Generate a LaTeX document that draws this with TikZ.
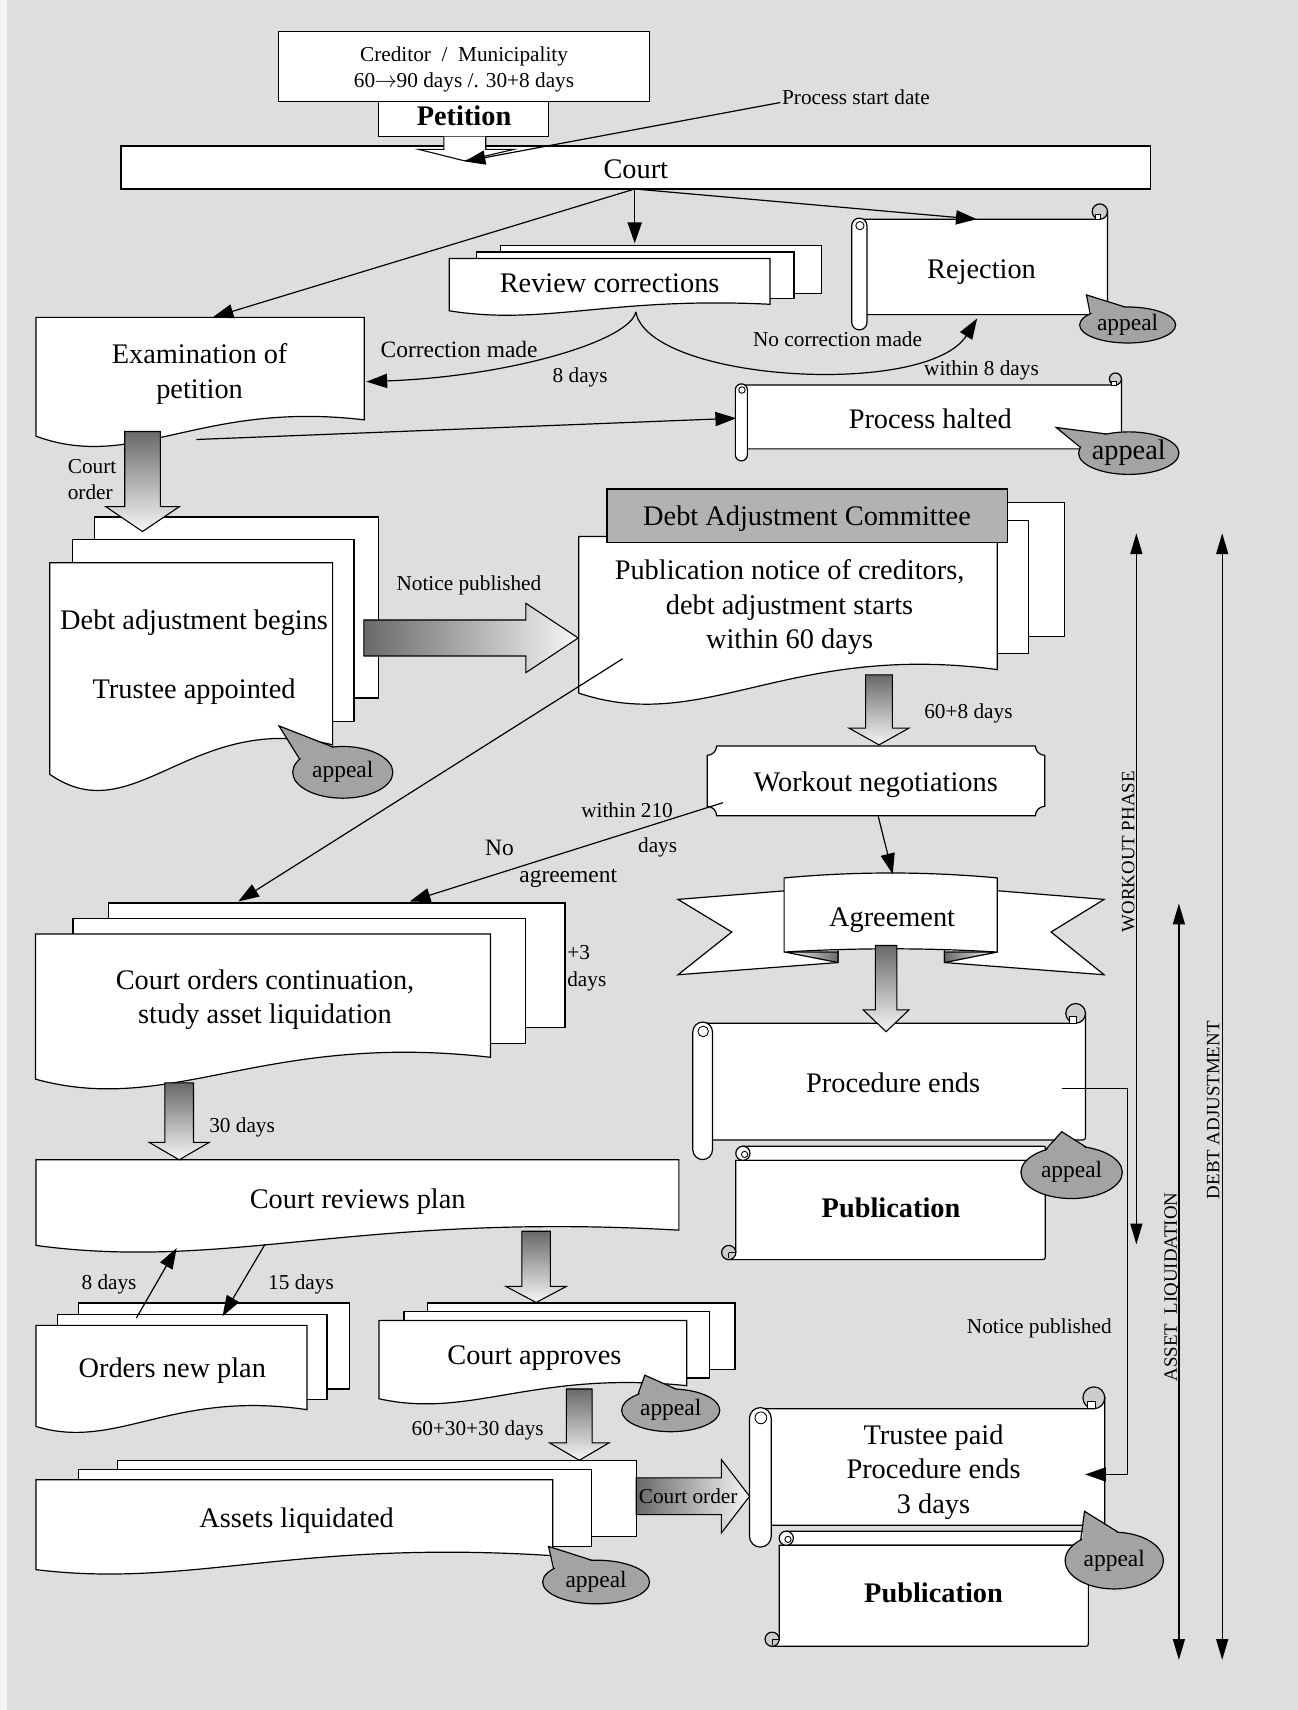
\documentclass[tikz,border=0pt]{standalone}
\usepackage{fontspec}
\setmainfont{Liberation Serif}
\usetikzlibrary{arrows.meta}
\definecolor{bgc}{RGB}{222,222,222}
\definecolor{appealgray}{RGB}{163,163,163}
\definecolor{hdrgray}{RGB}{178,178,178}
\definecolor{curlgray}{RGB}{205,205,205}
\definecolor{shdark}{RGB}{105,105,105}
\definecolor{shlight}{RGB}{246,246,246}
\tikzset{
 shp/.style={draw=black, fill=white, line width=1.1pt, line join=miter},
 conn/.style={draw=black, line width=1.1pt, -{Triangle[length=19pt,width=13pt]}},
 rng/.style={draw=black, line width=1.1pt, {Triangle[length=19pt,width=11pt]}-{Triangle[length=19pt,width=11pt]}},
 blk/.style={draw=black, line width=1pt},
 big/.style={font=\fontsize{26}{30}\selectfont, inner sep=0pt, text height=17pt, text depth=0pt},
 bigb/.style={font=\bfseries\fontsize{26}{30}\selectfont, inner sep=0pt, text height=17pt, text depth=0pt},
 med/.style={font=\fontsize{21.5}{25}\selectfont, inner sep=0pt, text height=14.2pt, text depth=0pt},
 sml/.style={font=\fontsize{19.5}{23}\selectfont, inner sep=0pt, text height=12.9pt, text depth=0pt},
 rotl/.style={font=\fontsize{17.3}{20}\selectfont, inner sep=0pt, text height=11.4pt, text depth=0pt, rotate=90},
}
% document shape: x0 y0 x1 yLeftBottom rise dip
\newcommand{\DocShape}[6]{%
 \filldraw[shp] (#1,#2) -- (#3,#2) -- (#3,{#4-#5}) .. controls ({#1+0.5*(#3-#1)},{#4-2.2*#5}) and ({#1+0.3*(#3-#1)},{#4+#6}) .. (#1,#4) -- cycle;}
% horizontal scroll: xL yT xR yB s
\newcommand{\HScroll}[5]{%
 \filldraw[shp] ({#1-0.5*#5},#2) -- ({#3-0.5*#5},#2) -- (#3,{#2-0.5*#5}) -- (#3,{#4-5}) .. controls (#3,#4) .. ({#3-5},#4) -- ({#1-0.5*#5},#4) -- cycle;
 \filldraw[shp, fill=curlgray] ({#3-0.5*#5},{#2-0.5*#5}) circle[radius={0.5*#5}];
 \filldraw[shp, line width=0.8pt] ({#3-0.8*#5},#2) rectangle ({#3-0.45*#5},{#2-0.32*#5});
 \filldraw[shp, rounded corners={0.5pt*#5}] ({#1-#5+1},{#2-1}) rectangle ({#1+1},{#4+#5});
 \draw[line width=0.8pt] ({#1-0.5*#5+1.5},{#2+0.42*#5}) circle[radius={0.27*#5}];}
% vertical scroll: xL yT xR yB s
\newcommand{\VScroll}[5]{%
 \filldraw[shp] ({#1+0.5*#5},{#2-#5}) -- ({#3-3},{#2-#5}) .. controls (#3,{#2-#5}) .. (#3,{#2-#5+3}) -- (#3,#2) -- ({#1+0.5*#5},#2) -- cycle;
 \filldraw[shp] (#1,#2) -- (#3,#2) -- (#3,{#4-5}) .. controls (#3,#4) .. ({#3-5},#4) -- ({#1-0.5*#5},#4) -- (#1,{#4-0.5*#5}) -- cycle;
 \filldraw[shp] ({#1+0.5*#5},{#2-0.5*#5}) circle[radius={0.5*#5}];
 \draw[line width=0.8pt] ({#1+0.62*#5},{#2-0.42*#5}) circle[radius={0.22*#5}];
 \filldraw[shp, fill=curlgray] ({#1-0.5*#5},{#4-0.5*#5}) circle[radius={0.5*#5}];
 \draw[line width=0.8pt] ({#1-0.5*#5},{#4-0.5*#5}) -- ({#1-0.02*#5},{#4-0.5*#5}) ({#1-0.5*#5},{#4-0.5*#5}) -- ({#1-0.5*#5},{#4-0.1*#5});}
% appeal callout: name cx cy rx ry tipx tipy size
\newcommand{\Appeal}[8]{%
 \pgfmathsetmacro{\apth}{atan2((#7-#3)/#5,(#6-#2)/#4)}
 \filldraw[shp, fill=appealgray] (#2,#3) ellipse[x radius=#4, y radius=#5];
 \fill[appealgray] ({#2+0.96*#4*cos(\apth+24)},{#3+0.96*#5*sin(\apth+24)}) -- (#6,#7) -- ({#2+0.96*#4*cos(\apth-24)},{#3+0.96*#5*sin(\apth-24)}) -- cycle;
 \draw[line width=1.1pt, line join=miter] ({#2+#4*cos(\apth+24)},{#3+#5*sin(\apth+24)}) -- (#6,#7) -- ({#2+#4*cos(\apth-24)},{#3+#5*sin(\apth-24)});
 \node[font=\fontsize{#8}{#8}\selectfont, inner sep=0pt, anchor=base] (#1) at (#2,{#3+0.24*#8}) {appeal};}
% block arrows
\newcommand{\BArrowD}[6]{%
 \filldraw[blk, top color=shdark, bottom color=shlight] ({#1-#5},#2) -- ({#1+#5},#2) -- ({#1+#5},#3) -- ({#1+#6},#3) -- (#1,#4) -- ({#1-#6},#3) -- ({#1-#5},#3) -- cycle;}
\newcommand{\BArrowR}[6]{%
 \filldraw[blk, left color=shdark, right color=shlight] (#2,{#1-#5}) -- (#3,{#1-#5}) -- (#3,{#1-#6}) -- (#4,#1) -- (#3,{#1+#6}) -- (#3,{#1+#5}) -- (#2,{#1+#5}) -- cycle;}
\begin{document}
\begin{tikzpicture}[x=1pt,y=-1pt]
\fill[bgc] (0,0) rectangle (1190,1568);
\fill[white!65!bgc] (0,0) rectangle (6,1568);
\useasboundingbox (0,0) rectangle (1190,1568);

% ---------- top ----------
\filldraw[shp] (255.7,29) rectangle (595.3,93.2);
\node[sml] (cred1) at (425.5,50) {Creditor \ / \ Municipality};
\node[sml] (cred2) at (425.5,74) {60\kern-0.5pt$\rightarrow$\kern-0.5pt 90 days /. 30+8 days};
\filldraw[shp] (347,93.2) rectangle (503,125.2);
\node[bigb] (pet) at (425.5,107) {Petition};
\filldraw[shp] (111,133.8) rectangle (1055,173.3);
\node[big] (court) at (583,155) {Court};
\filldraw[shp, line width=1pt] (407,125.2) -- (407,137) -- (384,137) -- (426,147.5) -- (471,137) -- (445.4,137) -- (445.4,125.2);
\node[sml, anchor=west] (psd) at (717,89) {Process start date};

% Review corrections
\filldraw[shp] (459,225) rectangle (753,269);
\filldraw[shp] (437,231) rectangle (728,274);
\DocShape{412}{237}{706}{285}{6}{14}
\node[big] (rev) at (559,260) {Review corrections};

% Rejection
\HScroll{794}{201}{1015.5}{288.5}{14}
\node[big] (rej) at (900,247) {Rejection};

% Examination
\DocShape{33}{291}{334}{400}{15}{33}
\node[big] (exa1) at (183,325) {Examination of};
\node[big] (exa2) at (183,357) {petition};

% Process halted
\HScroll{684.3}{353}{1028.3}{411.6}{11}
\node[big] (halt) at (853,384) {Process halted};

% Debt adjustment begins
\filldraw[shp] (87,474) rectangle (347,640);
\filldraw[shp] (66.5,495) rectangle (324.6,661.6);
\DocShape{45.6}{516}{305}{710}{27}{54}
\node[big] (dab1) at (178,569) {Debt adjustment begins};
\node[big] (dab2) at (178,632) {Trustee appointed};

% Publication notice / committee
\filldraw[shp] (600,461) rectangle (976,584);
\filldraw[shp] (580,477) rectangle (943,599);
\DocShape{530.6}{492}{914.5}{635.5}{21.5}{38.8}
\filldraw[shp, fill=hdrgray] (556.6,448.3) rectangle (924,497.5);
\node[big] (dac) at (740,473) {Debt Adjustment Committee};
\node[big] (pn1) at (724,523) {Publication notice of creditors,};
\node[big] (pn2) at (724,555) {debt adjustment starts};
\node[big] (pn3) at (724,586) {within 60 days};

% Workout negotiations
\filldraw[shp] (648.5,692.6) .. controls (653.25,692.6) and (657.1,688.75) .. (657.1,684) -- (949.4,684) .. controls (949.4,688.75) and (953.25,692.6) .. (958,692.6) -- (958,739.4) .. controls (953.25,739.4) and (949.4,743.25) .. (949.4,748) -- (657.1,748) .. controls (657.1,743.25) and (653.25,739.4) .. (648.5,739.4) -- cycle;
\node[big] (work) at (803,717) {Workout negotiations};

% Agreement banner
\filldraw[shp] (730,816) -- (621.7,824.7) -- (671,854.6) -- (621.7,893.8) -- (768.4,882.6) -- (768.4,860) -- cycle;
\filldraw[shp] (905,816) -- (1012.4,824.7) -- (963.8,854.6) -- (1012.4,893.8) -- (866,882.6) -- (866,860) -- cycle;
\filldraw[shp, left color=shlight, right color=shdark] (719.7,873) -- (768.4,873) -- (768.4,882.6) -- cycle;
\filldraw[shp, left color=shdark, right color=shlight] (866,873) -- (914.4,873) -- (866,882.6) -- cycle;
\filldraw[shp] (719,805) .. controls (784,799) and (849,799) .. (914.4,805) -- (914.4,873) .. controls (849,869) and (784,869) .. (719,873) -- cycle;
\node[big] (agr) at (818,841) {Agreement};

% Court orders continuation
\filldraw[shp] (99.6,828) rectangle (518,941.8);
\filldraw[shp] (67,842.5) rectangle (481.6,956.5);
\DocShape{32.5}{856.5}{449.8}{989.5}{20}{34.5}
\node[big] (coc1) at (243,899) {Court orders continuation,};
\node[big] (coc2) at (243,930) {study asset liquidation};

% Publication 1 and Procedure ends
\VScroll{674.7}{1064}{958.5}{1155}{13}
\node[bigb] (pub1) at (817,1108) {Publication};
\HScroll{652.3}{938.2}{995.3}{1045.3}{18}
\node[big] (pend) at (819,993) {Procedure ends};

% Court reviews plan
\DocShape{33}{1063.4}{622.5}{1142}{14}{23.8}
\node[big] (crp) at (328,1100) {Court reviews plan};

% Orders new plan
\filldraw[shp] (72,1194.8) rectangle (320.4,1273.7);
\filldraw[shp] (53,1205) rectangle (299.8,1283.5);
\DocShape{33}{1215.3}{281.5}{1308}{15.4}{22.6}
\node[big] (onp) at (158,1255) {Orders new plan};

% Court approves
\filldraw[shp] (391.8,1194.8) rectangle (674,1256);
\filldraw[shp] (370.4,1202.5) rectangle (650.4,1263.6);
\DocShape{347.6}{1210.8}{629.8}{1282.6}{12}{18.8}
\node[big] (cap) at (490,1243) {Court approves};

% Assets liquidated
\filldraw[shp] (108,1339) rectangle (583.4,1408.8);
\filldraw[shp] (72,1347.6) rectangle (542.7,1418);
\DocShape{33}{1356.8}{506.8}{1439.3}{12.8}{17.3}
\node[big] (asl) at (272,1392) {Assets liquidated};

% Publication 2 and Trustee paid
\VScroll{714.5}{1417}{998}{1509.6}{13}
\node[bigb] (pub2) at (856,1461) {Publication};
\HScroll{706.2}{1291.7}{1013}{1398.6}{20}
\node[big] (tp1) at (856,1316) {Trustee paid};
\node[big] (tp2) at (856,1347) {Procedure ends};
\node[big] (tp3) at (856,1379) {3 days};

% ---------- block arrows ----------
\BArrowD{130.7}{395.7}{464.5}{487.4}{16.3}{33.8}
\BArrowR{585}{333.7}{482.2}{530.2}{16.5}{31.8}
\BArrowD{806}{618.8}{667.7}{683}{12.3}{27.4}
\BArrowD{812.5}{867}{926}{946}{9.9}{21}
\BArrowD{164.3}{993}{1047.5}{1063.5}{13.1}{27.5}
\BArrowD{491.6}{1129}{1179.6}{1194.3}{13}{27.7}
\BArrowD{531.2}{1273.6}{1323}{1339}{11.8}{27.3}
\BArrowR{1372}{583.4}{661.5}{687.3}{16.8}{33.6}
\node[sml] (co2) at (631,1372) {Court order};

% ---------- connectors ----------
\coordinate (cb) at (582,173.3);
\coordinate (exatop) at (195,291);
\coordinate (revtop) at (582,223);
\coordinate (rejtop) at (895.6,201);
\coordinate (revbot) at (583,286);
\coordinate (exaright) at (336,350);
\coordinate (rejbot) at (896,292);
\coordinate (exabot) at (180,403);
\coordinate (halttube) at (675,383.5);
\coordinate (psdend) at (715.5,94);
\coordinate (courttip) at (426,148);
\coordinate (pubin) at (571,604);
\coordinate (coctopa) at (218.5,826.6);
\coordinate (workl) at (663,736);
\coordinate (coctopb) at (375.7,826.6);
\coordinate (workb) at (805.3,748.5);
\coordinate (agrtop) at (818.6,801.6);
\coordinate (onpa) at (125,1208.6);
\coordinate (crpa) at (162,1144.4);
\coordinate (crpb) at (243,1141);
\coordinate (onpb) at (204,1207);
\coordinate (pendin) at (973.6,998);
\coordinate (tpin) at (995,1352);

\draw[conn] (cb) -- (exatop);
\draw[conn] (cb) -- (revtop);
\draw[conn] (cb) -- (rejtop);
\draw[conn] (revbot) .. controls (578,312) and (470,345) .. (exaright);
\draw[conn] (revbot) .. controls (595,350) and (850,365) .. (rejbot);
\draw[conn] (exabot) -- (halttube);
\draw[conn] (psdend) -- (courttip);
\draw[conn] (pubin) -- (coctopa);
\draw[conn] (workl) -- (coctopb);
\draw[conn] (workb) -- (agrtop);
\draw[conn] (onpa) -- (crpa);
\draw[conn] (crpb) -- (onpb);
\draw[conn] (pendin) -| (1033.5,1352) -- (tpin);

\draw[rng] (1042,489) -- (1042,1141);
\draw[rng] (1081,828.5) -- (1081,1522);
\draw[rng] (1120.7,489) -- (1120.7,1522);
\node[rotl] (wph) at (1034.5,781) {WORKOUT PHASE};
\node[rotl] (alq) at (1073.5,1180) {ASSET \ LIQUIDATION};
\node[rotl] (dadj) at (1112.5,1018) {DEBT ADJUSTMENT};

% ---------- labels ----------
\node[med] (lcm) at (421,321) {Correction made};
\node[sml] (l8d) at (532,344) {8 days};
\node[sml] (lncm) at (768,311) {No correction made};
\node[sml] (lw8) at (900,338) {within 8 days};
\node[sml, anchor=west] (lco1) at (62,428) {Court};
\node[sml, anchor=west] (lco2) at (62,452) {order};
\node[sml] (lnp1) at (430,535) {Notice published};
\node[sml] (l68) at (888,652) {60+8 days};
\node[sml] (lw210) at (575,743) {within 210};
\node[sml] (ldays) at (603,775) {days};
\node[med] (lno) at (458,777) {No};
\node[med] (lagr) at (521,802) {agreement};
\node[sml, anchor=west] (lp3) at (520,873) {+3};
\node[sml, anchor=west] (lp3d) at (520,898) {days};
\node[sml] (l30) at (222,1032) {30 days};
\node[sml] (l8b) at (100,1176) {8 days};
\node[sml] (l15) at (276,1176) {15 days};
\node[sml] (lnp2) at (953,1216) {Notice published};
\node[sml] (l603030) at (438,1310) {60+30+30 days};

% ---------- appeals ----------
\Appeal{ap1}{1034}{298}{44}{16.5}{996.2}{270.4}{21.5}
\Appeal{ap2}{1035}{415.5}{46}{19.5}{968.5}{392}{26}
\Appeal{ap3}{314.3}{708.2}{45.9}{23.7}{255.8}{665.6}{21.5}
\Appeal{ap4}{982.6}{1075}{46.5}{24}{973.6}{1037.7}{21.5}
\Appeal{ap5}{615}{1293.2}{45}{19.6}{591.3}{1261}{21.5}
\Appeal{ap6}{1021.7}{1431}{45}{26}{994.5}{1385.8}{21.5}
\Appeal{ap7}{546.6}{1450.6}{49}{20}{503}{1418}{21.5}
\end{tikzpicture}
\end{document}
